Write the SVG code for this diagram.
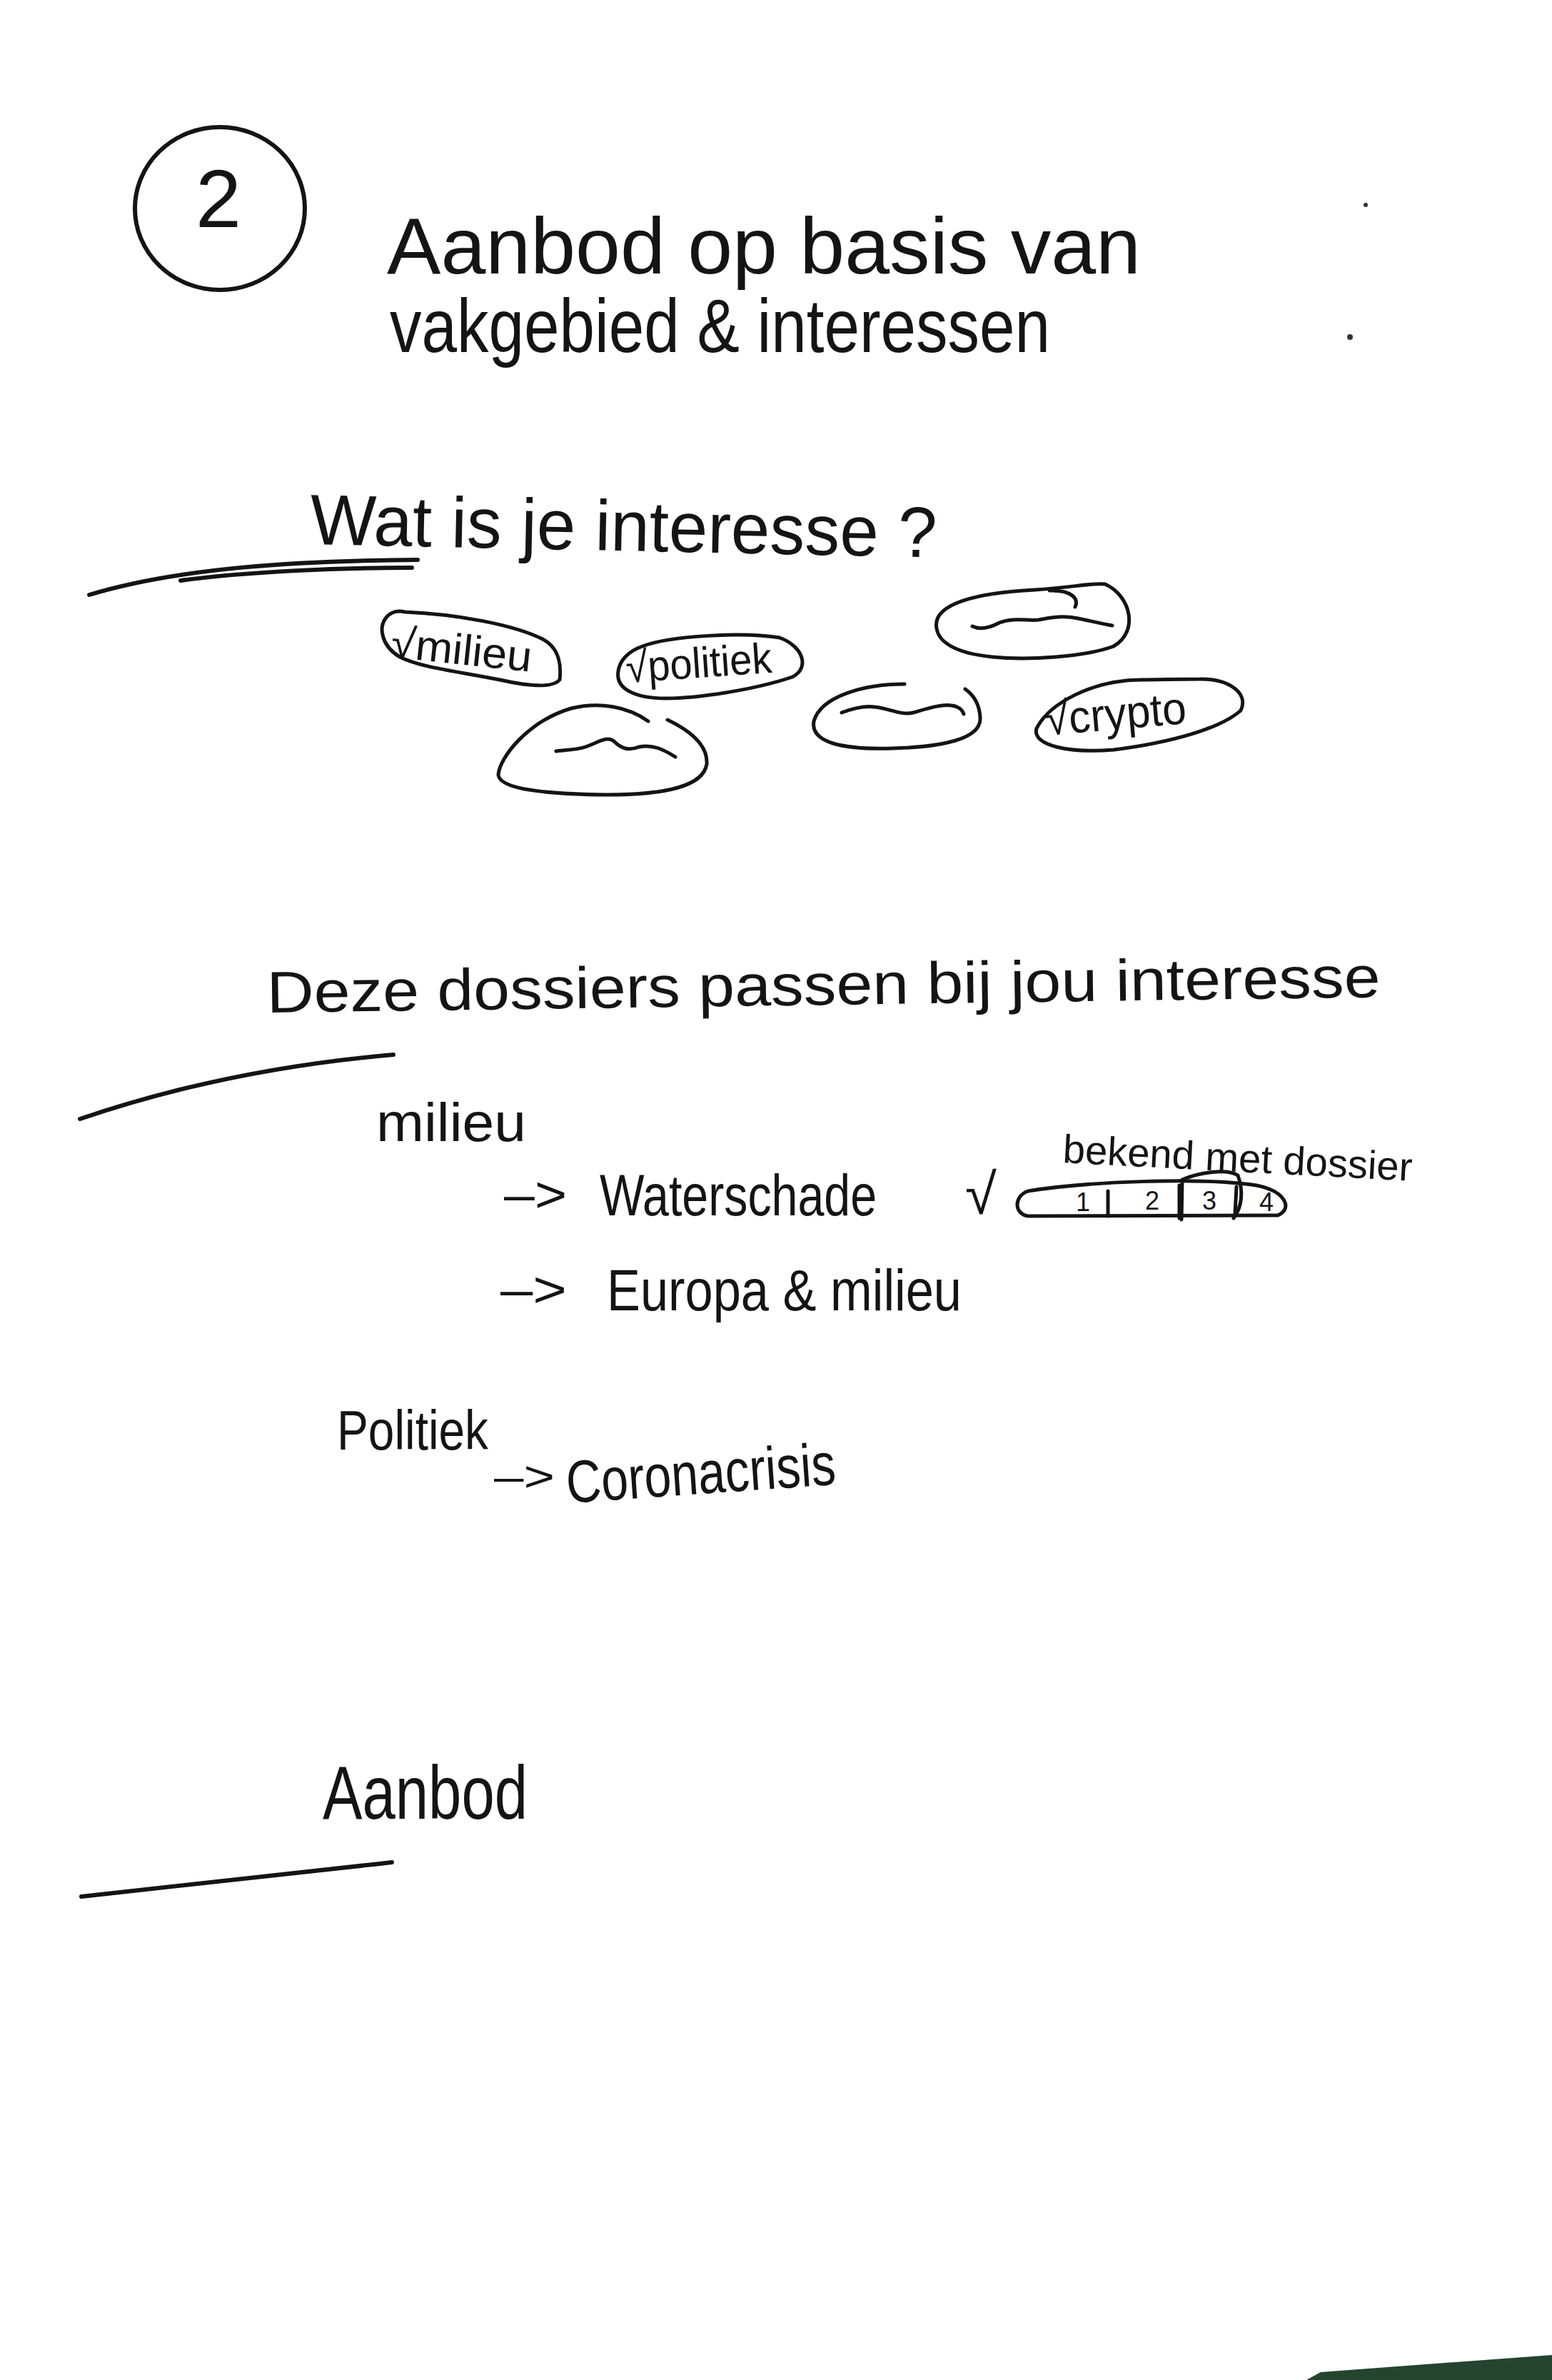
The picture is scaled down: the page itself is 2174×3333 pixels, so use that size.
<svg xmlns="http://www.w3.org/2000/svg" width="2174" height="3333" viewBox="0 0 2174 3333">
<style>
.t{font-family:"Liberation Sans",Arial,sans-serif;fill:#141414}
.s{fill:none;stroke:#141414;stroke-width:6;stroke-linecap:round;stroke-linejoin:round}
.f{fill:none;stroke:#141414;stroke-width:5;stroke-linecap:round;stroke-linejoin:round}
</style>
<rect x="0" y="0" width="2174" height="3333" fill="#ffffff"/>
<polygon points="1830,3333 1850,3322 2174,3298 2174,3333" fill="#24442f"/>

<g id="title">
  <ellipse cx="308" cy="292" rx="119" ry="114" class="s"/>
  <text class="t" x="306" y="318" font-size="115" text-anchor="middle">2</text>
  <text class="t" x="542" y="383" font-size="112" textLength="1056" lengthAdjust="spacingAndGlyphs">Aanbod op basis van</text>
  <text class="t" x="546" y="493" font-size="105" textLength="925" lengthAdjust="spacingAndGlyphs">vakgebied &amp; interessen</text>
  <circle cx="1913" cy="287" r="3" fill="#333"/>
  <circle cx="1891" cy="472" r="4" fill="#333"/>
</g>

<g id="question">
  <text class="t" x="434" y="762" font-size="100" textLength="878" lengthAdjust="spacingAndGlyphs" transform="rotate(1.2 434 762)">Wat is je interesse ?</text>
  <path class="s" d="M125,833 C250,795 420,785 585,784"/>
  <path class="s" d="M253,813 C350,800 480,795 577,795"/>
</g>

<g id="opt-milieu">
  <path class="f" d="M567,857 C640,860 720,875 760,895 C785,908 786,935 784,952 C775,963 745,962 700,952 C640,940 590,935 560,920 C535,905 530,880 540,866 C548,855 560,855 567,857 Z"/>
  <text class="t" x="546" y="920" font-size="60" textLength="198" lengthAdjust="spacingAndGlyphs" transform="rotate(6 546 920)">√milieu</text>
</g>

<g id="opt-politiek">
  <path class="f" d="M900,905 C940,890 1040,885 1092,893 C1125,905 1135,935 1110,948 C1060,965 980,978 933,978 C890,978 862,965 866,940 C868,925 880,912 900,905 Z"/>
  <text class="t" x="878" y="956" font-size="60" textLength="205" lengthAdjust="spacingAndGlyphs" transform="rotate(-4 878 956)">√politiek</text>
</g>

<g id="opt-empty-1">
  <path class="f" d="M1312,880 C1305,845 1370,830 1450,826 C1500,823 1530,816 1548,818 C1585,835 1595,885 1560,905 C1520,920 1440,925 1390,920 C1340,915 1315,900 1312,880 Z"/>
  <path class="f" d="M1470,827 C1500,826 1512,838 1506,850"/>
  <path class="f" d="M1362,877 C1372,882 1385,880 1400,872 C1420,864 1440,870 1455,868 C1475,864 1490,862 1510,866 C1530,870 1545,874 1558,876"/>
</g>

<g id="opt-empty-2">
  <path class="f" d="M908,1010 C880,990 840,982 800,992 C740,1010 700,1060 698,1085 C700,1105 760,1112 850,1113 C930,1113 985,1102 990,1070 C992,1040 960,1020 935,1008"/>
  <path class="f" d="M779,1052 C795,1050 808,1050 820,1046 C838,1040 850,1030 860,1038 C870,1048 880,1052 895,1046 C915,1042 930,1050 946,1060"/>
</g>

<g id="opt-empty-3">
  <path class="f" d="M1267,958 C1210,958 1150,975 1140,1010 C1135,1040 1180,1050 1250,1048 C1320,1046 1375,1035 1373,1005 C1372,985 1362,972 1352,965"/>
  <path class="f" d="M1179,998 C1195,992 1210,988 1225,990 C1245,992 1262,1002 1279,998 C1300,992 1318,986 1333,988 C1342,989 1348,994 1350,1000"/>
</g>

<g id="opt-crypto">
  <path class="f" d="M1600,952 C1530,952 1470,985 1452,1020 C1445,1045 1500,1055 1560,1050 C1640,1040 1710,1020 1738,995 C1750,970 1720,950 1680,951 C1650,951 1620,952 1600,952 Z"/>
  <text class="t" x="1466" y="1030" font-size="64" textLength="198" lengthAdjust="spacingAndGlyphs" transform="rotate(-5 1466 1030)">√crypto</text>
</g>

<g id="matches">
  <text class="t" x="374" y="1418" font-size="82" textLength="1560" lengthAdjust="spacingAndGlyphs" transform="rotate(-0.8 374 1418)">Deze dossiers passen bij jou interesse</text>
  <path class="s" d="M112,1567 C250,1520 400,1490 551,1477"/>
</g>

<g id="cat-milieu">
  <text class="t" x="527" y="1598" font-size="76" textLength="210" lengthAdjust="spacingAndGlyphs">milieu</text>
</g>

<g id="item-waterschade">
  <text class="t" x="706" y="1697" font-size="70" textLength="88" lengthAdjust="spacingAndGlyphs">–&gt;</text>
  <text class="t" x="840" y="1702" font-size="82" textLength="388" lengthAdjust="spacingAndGlyphs">Waterschade</text>
  <text class="t" x="1352" y="1700" font-size="80">√</text>
</g>

<g id="familiarity-scale">
  <text class="t" x="1488" y="1628" font-size="56" textLength="490" lengthAdjust="spacingAndGlyphs" transform="rotate(3 1488 1628)">bekend met dossier</text>
  <path class="f" d="M1440,1668 C1520,1655 1680,1648 1760,1660 C1800,1668 1812,1692 1790,1702 L1440,1703 C1420,1700 1420,1675 1440,1668 Z"/>
  <path class="f" d="M1552,1668 L1552,1703"/>
  <path class="f" d="M1652,1660 L1652,1706"/>
  <path class="f" d="M1732,1662 L1730,1700"/>
  <path class="f" d="M1655,1708 L1656,1652 C1680,1642 1718,1636 1734,1646 C1742,1668 1740,1690 1728,1706"/>
  <text class="t" x="1517" y="1696" font-size="36" text-anchor="middle">1</text>
  <text class="t" x="1614" y="1694" font-size="36" text-anchor="middle">2</text>
  <text class="t" x="1694" y="1694" font-size="36" text-anchor="middle">3</text>
  <text class="t" x="1774" y="1696" font-size="36" text-anchor="middle">4</text>
</g>

<g id="item-europa">
  <text class="t" x="701" y="1830" font-size="70" textLength="93" lengthAdjust="spacingAndGlyphs">–&gt;</text>
  <text class="t" x="850" y="1835" font-size="82" textLength="497" lengthAdjust="spacingAndGlyphs">Europa &amp; milieu</text>
</g>

<g id="cat-politiek">
  <text class="t" x="472" y="2030" font-size="78" textLength="212" lengthAdjust="spacingAndGlyphs">Politiek</text>
</g>

<g id="item-coronacrisis">
  <text class="t" x="692" y="2088" font-size="60" textLength="85" lengthAdjust="spacingAndGlyphs">–&gt;</text>
  <text class="t" x="795" y="2105" font-size="84" textLength="378" lengthAdjust="spacingAndGlyphs" transform="rotate(-4 795 2105)">Coronacrisis</text>
</g>

<g id="aanbod">
  <text class="t" x="452" y="2547" font-size="105" textLength="287" lengthAdjust="spacingAndGlyphs">Aanbod</text>
  <path class="s" d="M114,2656 C250,2640 400,2625 549,2608"/>
</g>

<g id="connectors"></g>
</svg>
